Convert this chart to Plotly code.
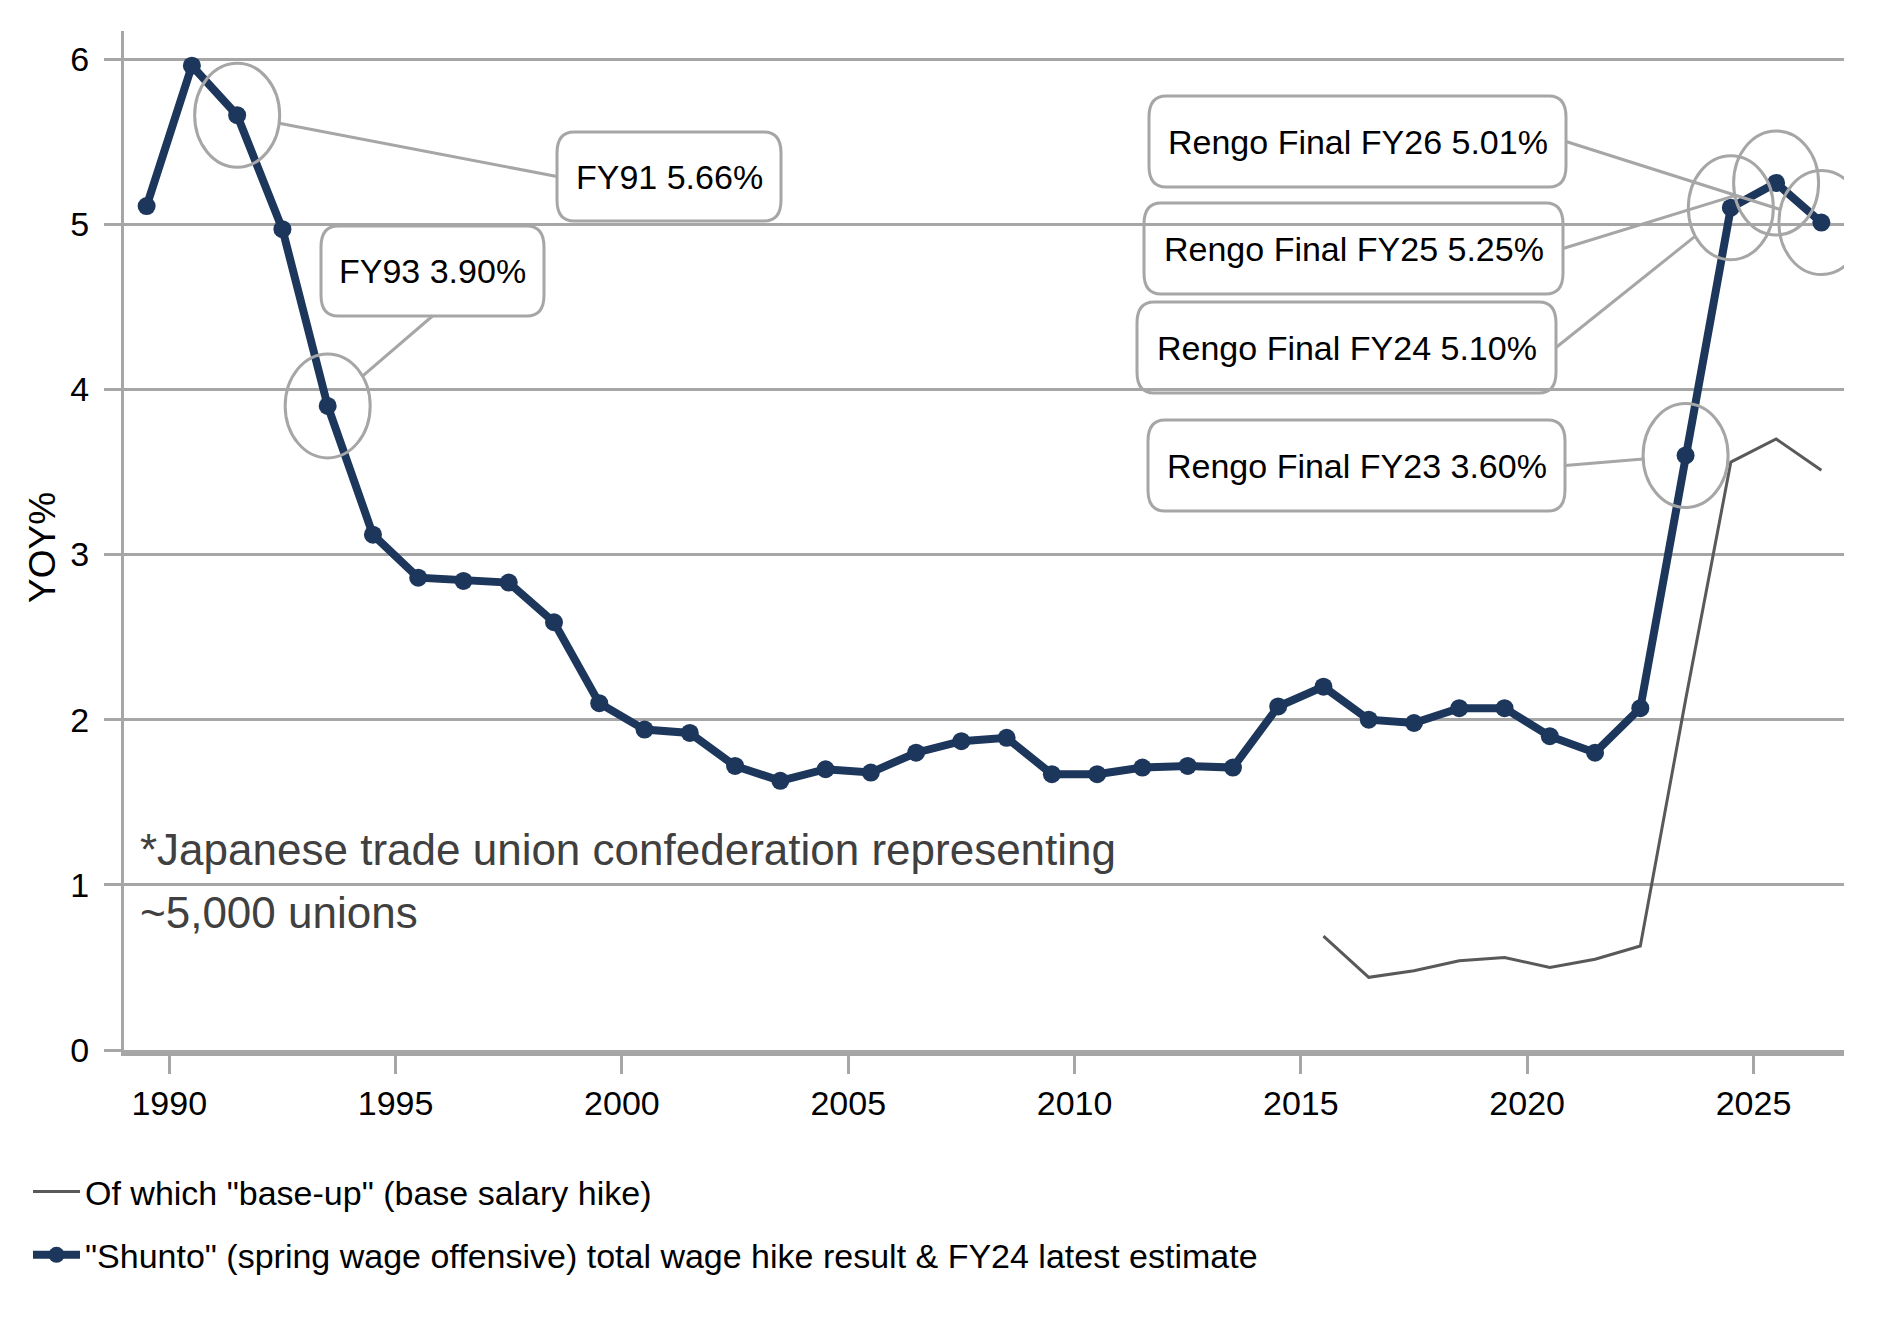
import plotly.graph_objects as go

# ---------------- data ----------------
years = list(range(1989, 2027))
shunto = [5.11, 5.96, 5.66, 4.97, 3.90, 3.12, 2.86, 2.84, 2.83, 2.59,
          2.10, 1.94, 1.92, 1.72, 1.63, 1.70, 1.68, 1.80, 1.87, 1.89,
          1.67, 1.67, 1.71, 1.72, 1.71, 2.08, 2.20, 2.00, 1.98, 2.07,
          2.07, 1.90, 1.80, 2.07, 3.60, 5.10, 5.25, 5.01]
baseup_years = list(range(2015, 2027))
baseup = [0.69, 0.44, 0.48, 0.54, 0.56, 0.50, 0.55, 0.63, 2.12, 3.56, 3.70, 3.51]

x_ticks = [1990, 1995, 2000, 2005, 2010, 2015, 2020, 2025]
y_ticks = [0, 1, 2, 3, 4, 5, 6]

name_baseup = 'Of which "base-up" (base salary hike)'
name_shunto = '"Shunto" (spring wage offensive) total wage hike result & FY24 latest estimate'
note_lines = ["*Japanese trade union confederation representing", "~5,000 unions"]

# callouts: fiscal year, label prefix, box (left, top, right, bottom in px), attach side
callouts = [
    (1991, "FY91", (557, 132, 781, 221), "left"),
    (1993, "FY93", (321, 226, 544, 316), "bottom"),
    (2026, "Rengo Final FY26", (1149, 96, 1566, 187), "right"),
    (2025, "Rengo Final FY25", (1144, 203, 1563, 294), "right"),
    (2024, "Rengo Final FY24", (1137, 302, 1556, 393), "right"),
    (2023, "Rengo Final FY23", (1148, 420, 1565, 511), "right"),
]

# ---------------- layout geometry ----------------
W, H = 1883, 1332
ML, MR, MT, MB = 124, 39, 31, 282
PL, PR, PT, PB = ML, W - MR, MT, H - MB
X0, X1 = 1989, 2027
Y0, Y1 = 0, 6.17

NAVY = "#1c365c"
GRID = "#a6a6a6"
FONT = "Liberation Sans, Arial, sans-serif"


def dx(px):
    return X0 + (px - PL) / (PR - PL) * (X1 - X0)


def dy(py):
    return Y0 + (PB - py) / (PB - PT) * (Y1 - Y0)


def to_px(xv, yv):
    return (PL + (xv - X0) / (X1 - X0) * (PR - PL),
            PB - (yv - Y0) / (Y1 - Y0) * (PB - PT))


xs = [y + 0.5 for y in years]
xs_b = [y + 0.5 for y in baseup_years]

fig = go.Figure()
fig.add_trace(go.Scatter(x=xs_b, y=baseup, mode="lines", name=name_baseup,
                         legendgroup="a",
                         line=dict(color="#595959", width=3)))
fig.add_trace(go.Scatter(x=xs, y=shunto, mode="lines+markers", name=name_shunto,
                         legendgroup="b",
                         line=dict(color=NAVY, width=8),
                         marker=dict(color=NAVY, size=18)))

shapes = []
annotations = []
ERX, ERY = 42.5, 52  # ellipse radii in px
RX, RY = 17, 21      # box corner radii in px

for fy, prefix, (bl, bt, br, bb), side in callouts:
    v = shunto[years.index(fy)]
    cx, cy = to_px(fy + 0.5, v)
    shapes.append(dict(type="circle", xref="x", yref="y",
                       x0=dx(cx - ERX), x1=dx(cx + ERX), y0=dy(cy + ERY), y1=dy(cy - ERY),
                       line=dict(color=GRID, width=3)))
    pts = [("M", bl + RX, bt), ("L", br - RX, bt), ("Q", br, bt, br, bt + RY),
           ("L", br, bb - RY), ("Q", br, bb, br - RX, bb), ("L", bl + RX, bb),
           ("Q", bl, bb, bl, bb - RY), ("L", bl, bt + RY), ("Q", bl, bt, bl + RX, bt)]
    path = ""
    for p in pts:
        coords = p[1:]
        s = [f"{dx(coords[i]):.5f},{dy(coords[i+1]):.5f}" for i in range(0, len(coords), 2)]
        path += p[0] + " ".join(s) + " "
    path += "Z"
    shapes.append(dict(type="path", xref="x", yref="y", path=path,
                       line=dict(color=GRID, width=3), fillcolor="rgba(0,0,0,0)"))
    if side == "left":
        ax, ay = bl, (bt + bb) / 2
    elif side == "right":
        ax, ay = br, (bt + bb) / 2
    else:
        ax, ay = (bl + br) / 2, bb
    ddx, ddy = ax - cx, ay - cy
    k = ((ddx / ERX) ** 2 + (ddy / ERY) ** 2) ** 0.5
    ex, ey = cx + ddx / k, cy + ddy / k
    shapes.append(dict(type="line", xref="x", yref="y",
                       x0=dx(ax), y0=dy(ay), x1=dx(ex), y1=dy(ey),
                       line=dict(color=GRID, width=3)))
    annotations.append(dict(x=dx((bl + br) / 2), y=dy((bt + bb) / 2), xref="x", yref="y",
                            text=f"{prefix} {v:.2f}%", showarrow=False,
                            font=dict(family=FONT, size=34, color="black"),
                            xanchor="center", yanchor="middle"))

for line_text, cy_px in zip(note_lines, [849, 912]):
    annotations.append(dict(x=(138 - PL) / (PR - PL), y=(PB - cy_px) / (PB - PT),
                            xref="paper", yref="paper", text=line_text, showarrow=False,
                            xanchor="left", yanchor="middle", align="left",
                            font=dict(family=FONT, size=44, color="#404040")))
annotations.append(dict(x=(42 - PL) / (PR - PL), y=(PB - 548) / (PB - PT),
                        xref="paper", yref="paper", text="YOY%", showarrow=False,
                        textangle=-90, xanchor="center", yanchor="middle",
                        font=dict(family=FONT, size=37, color="black")))

fig.update_layout(
    width=W, height=H,
    margin=dict(l=ML, r=MR, t=MT, b=MB, autoexpand=False),
    paper_bgcolor="white", plot_bgcolor="white",
    font=dict(family=FONT, size=34, color="black"),
    shapes=shapes, annotations=annotations,
    showlegend=True,
    legend=dict(xref="container", yref="container", x=28 / W, y=1 - 1163 / H,
                xanchor="left", yanchor="top", bgcolor="rgba(0,0,0,0)",
                font=dict(family=FONT, size=34, color="black"),
                traceorder="grouped", itemwidth=47, tracegroupgap=16),
    xaxis=dict(range=[X0, X1], tickvals=x_ticks, ticks="outside", ticklen=18,
               tickwidth=3, tickcolor=GRID, showline=True, linewidth=6, linecolor=GRID,
               showgrid=False, zeroline=False, tickfont=dict(family=FONT, size=34)),
    yaxis=dict(range=[Y0, Y1], tickvals=y_ticks, ticks="outside", ticklen=17,
               tickwidth=3, tickcolor=GRID, showline=True, linewidth=3, linecolor=GRID,
               showgrid=True, gridcolor=GRID, gridwidth=3, zeroline=False,
               ticklabelstandoff=8, tickfont=dict(family=FONT, size=34)),
)

fig.write_html("out.html")
